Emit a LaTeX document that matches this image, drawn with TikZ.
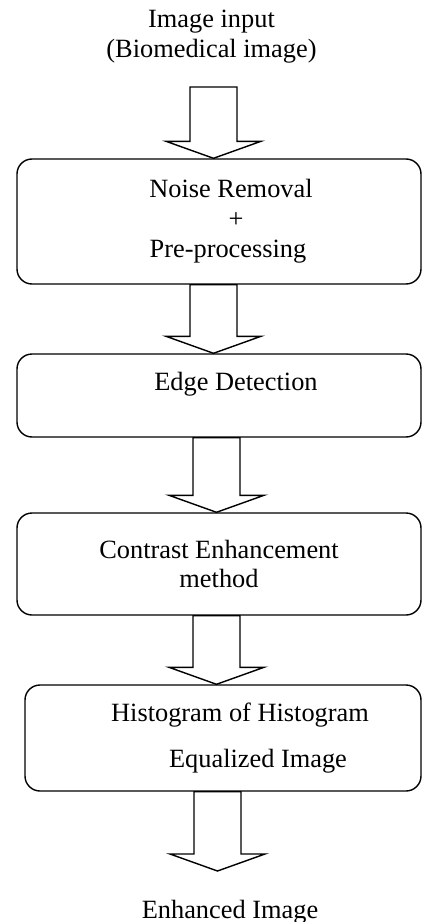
\documentclass[tikz,border=0pt]{standalone}
\usepackage{fontspec}
\setmainfont{Liberation Serif}
\usepackage{tikz}
\usetikzlibrary{calc}

\begin{document}
\begin{tikzpicture}[
      box/.style={rectangle,rounded corners=0.3cm,draw,line width=0.8pt,minimum width=8.08cm,align=center,font=\fontsize{15}{17}\selectfont},
      plain/.style={align=center,font=\fontsize{15}{17.5}\selectfont},
      fatarrow/.style={draw,line width=0.8pt,to path={let \p1=(\tikztostart), \p2=(\tikztotarget) in
        (\x1-0.47cm,\y1) -- (\x1-0.47cm,\y2+0.34cm) -- (\x1-0.95cm,\y2+0.34cm) -- (\x1,\y2)
        -- (\x1+0.95cm,\y2+0.34cm) -- (\x1+0.47cm,\y2+0.34cm) -- (\x1+0.47cm,\y1) -- cycle}}
    ]
    \useasboundingbox (0,0) rectangle (8.46,-18.44);

    \node[plain] (in) at (4.23,-0.73) {Image input\\(Biomedical image)};

    \node[box,minimum height=2.5cm] (noise) at (4.38,-4.43) {\hspace*{0.48cm}Noise Removal\\\hspace*{0.68cm}+\\\hspace*{0.36cm}Pre-processing};
    \node[box,minimum height=1.66cm,text depth=0.56cm] (edge) at (4.38,-7.91) {\hspace*{0.68cm}Edge Detection};
    \node[box,minimum height=2.04cm] (contrast) at (4.38,-11.28) {Contrast Enhancement\\method};
    \node[box,minimum width=7.92cm,minimum height=2.12cm] (hist) at (4.46,-14.76) {\hspace*{0.68cm}Histogram of Histogram\\[9pt]\hspace*{1.4cm}Equalized Image};

    \node[plain] (out) at (4.6,-18.24) {Enhanced Image};

    \coordinate (top) at (4.27,-1.74);
    \coordinate (bottom) at (4.35,-17.42);

    \draw[fatarrow] (top) to (noise.north);
    \draw[fatarrow] ([xshift=-0.11cm]noise.south) to (edge.north);
    \draw[fatarrow] ([xshift=-0.05cm]edge.south) to (contrast.north);
    \draw[fatarrow] ([xshift=-0.05cm]contrast.south) to (hist.north);
    \draw[fatarrow] ([xshift=-0.11cm]hist.south) to (bottom);
  \end{tikzpicture}
\end{document}
